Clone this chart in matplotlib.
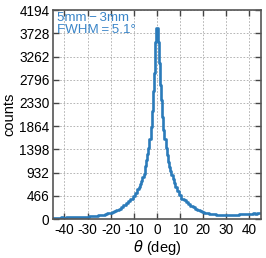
import matplotlib
matplotlib.use("Agg")
import matplotlib.pyplot as plt
import numpy as np

plt.rcParams['font.family'] = ['Liberation Sans', 'DejaVu Sans']

# angle (deg) and counts
theta = [-45, -44, -43, -42, -41, -40, -39, -38, -37, -36, -35, -34, -33, -32, -31,
         -30, -29, -28, -27, -26, -25, -24, -23, -22, -21, -20, -19, -18, -17, -16,
         -15, -14, -13, -12, -11, -10, -9, -8, -7.5, -7, -6.5, -6, -5.5, -5, -4.5,
         -4, -3.5, -3, -2.5, -2, -1.5, -1, -0.5, 0, 0.5, 1, 1.5, 2, 2.5, 3, 3.5,
         4, 4.5, 5, 5.5, 6, 6.5, 7, 7.5, 8, 9, 10, 11, 12, 13, 14, 15, 16, 17, 18,
         19, 20, 21, 22, 23, 24, 25, 26, 27, 28, 29, 30, 31, 32, 33, 34, 35, 36,
         37, 38, 39, 40, 41, 42, 43, 44, 45]
counts = [25, 28, 26, 30, 32, 30, 34, 36, 38, 40, 42, 44, 46, 48, 50,
          50, 54, 58, 62, 68, 72, 80, 88, 100, 112, 128, 145, 165, 185, 210,
          240, 275, 320, 360, 400, 460, 520, 600, 650, 700, 770, 850, 900, 1060, 1180,
          1300, 1420, 1600, 1850, 2160, 2560, 2940, 3560, 3830, 3560, 3140, 2700, 2390, 2050, 1790, 1600,
          1430, 1280, 1150, 1050, 960, 880, 800, 720, 650, 560, 490, 400, 380, 350, 310, 270, 240, 205, 175,
          160, 150, 130, 120, 110, 104, 96, 90, 84, 80, 74, 72, 76, 80, 78, 84, 88, 94,
          98, 100, 96, 104, 108, 112, 110, 118, 122]
yticks = [0, 466, 932, 1398, 1864, 2330, 2796, 3262, 3728, 4194]
xticks = [-40, -30, -20, -10, 0, 10, 20, 30, 40]

fig = plt.figure(figsize=(2.66, 2.58), dpi=100)
ax = fig.add_axes([0.199, 0.151, 0.782, 0.810])
ax.step(theta, counts, where='mid', color='#2b7bba', lw=1.9)
ax.set_xlim(-45, 45)
ax.set_ylim(0, 4194)
ax.set_xticks(xticks)
ax.set_xticklabels([str(t) for t in xticks])
ax.set_yticks(yticks)
ax.grid(True, ls=(0, (2, 2)), color='#aaaaaa', lw=0.6)
ax.tick_params(direction='in', top=True, right=True, length=4, width=1,
               labelsize=9.8, pad=2.5, color='#444444')
for s in ax.spines.values():
    s.set_color('#555555')
    s.set_linewidth(1.2)
ax.set_xlabel(r'$\theta$ (deg)', fontsize=10.5, labelpad=1)
ax.set_ylabel('counts', fontsize=10.5, labelpad=2)
ax.text(0.02, 0.99, '5mm\u2009\u2212\u20093mm\nFWHM\u2009=\u20095.1\u00b0', transform=ax.transAxes,
        ha='left', va='top', color='#3a85c8', fontsize=9.6, linespacing=0.95)
fig.savefig('out.png', dpi=100)
